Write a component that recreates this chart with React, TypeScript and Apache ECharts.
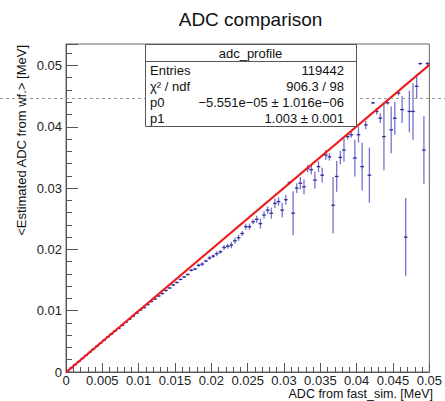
import React, { useEffect, useRef } from "react";
import * as echarts from "echarts";

// ---- data ----
const binCenters = [
  0.00025, 0.00075, 0.00125, 0.00175, 0.00225, 0.00275, 0.00325, 0.00375, 0.00425, 0.00475,
  0.00525, 0.00575, 0.00625, 0.00675, 0.00725, 0.00775, 0.00825, 0.00875, 0.00925, 0.00975,
  0.01025, 0.01075, 0.01125, 0.01175, 0.01225, 0.01275, 0.01325, 0.01375, 0.01425, 0.01475,
  0.01525, 0.01575, 0.01625, 0.01675, 0.01725, 0.01775, 0.01825, 0.01875, 0.01925, 0.01975,
  0.02025, 0.02075, 0.02125, 0.02175, 0.02225, 0.02275, 0.02325, 0.02375, 0.02425, 0.02475,
  0.02525, 0.02575, 0.02625, 0.02675, 0.02725, 0.02775, 0.02825, 0.02875, 0.02925, 0.02975,
  0.03025, 0.03075, 0.03125, 0.03175, 0.03225, 0.03275, 0.03325, 0.03375, 0.03425, 0.03475,
  0.03525, 0.03575, 0.03625, 0.03675, 0.03725, 0.03775, 0.03825, 0.03875, 0.03925, 0.03975,
  0.04025, 0.04075, 0.04125, 0.04175, 0.04225, 0.04275, 0.04325, 0.04375, 0.04425, 0.04475,
  0.04525, 0.04575, 0.04625, 0.04675, 0.04725, 0.04775, 0.04825, 0.04875, 0.04925, 0.04975,
];
const binMeans = [
  0.0002, 0.0007, 0.0012, 0.0017, 0.0022, 0.0027, 0.0032, 0.0037, 0.0042, 0.0047,
  0.0052, 0.0057, 0.0062, 0.0067, 0.0071, 0.0076, 0.0081, 0.0086, 0.0091, 0.0096,
  0.0101, 0.0105, 0.011, 0.0115, 0.0119, 0.0124, 0.0128, 0.0133, 0.0137, 0.0142,
  0.0146, 0.0151, 0.0155, 0.0159, 0.0166, 0.0168, 0.0174, 0.0176, 0.0181, 0.0186,
  0.0189, 0.0193, 0.0196, 0.0203, 0.0205, 0.0207, 0.0214, 0.0219, 0.0226, 0.0237,
  0.0237, 0.0245, 0.0249, 0.0242, 0.0256, 0.0264, 0.0259, 0.0275, 0.0278, 0.0264,
  0.0281, 0.0309, 0.0259, 0.03, 0.0308, 0.0302, 0.0332, 0.033, 0.0313, 0.0335,
  0.0321, 0.0354, 0.0351, 0.0272, 0.0319, 0.035, 0.0362, 0.0384, 0.0387, 0.0349,
  0.0387, 0.0335, 0.0403, 0.0321, 0.0439, 0.0425, 0.0414, 0.0384, 0.0439, 0.0395,
  0.0414, 0.0455, 0.0428, 0.022, 0.0425, 0.0425, 0.0466, 0.0503, 0.0362, 0.0503,
];
const binErrors = [
  0.0001, 0.0001, 0.0001, 0.0001, 0.0001, 0.0001, 0.0001, 0.0001, 0.0001, 0.0001,
  0.0001, 0.0001, 0.0001, 0.0001, 0.0001, 0.0001, 0.0001, 0.0001, 0.0001, 0.0001,
  0.00015, 0.00015, 0.00015, 0.00015, 0.00015, 0.00015, 0.00015, 0.00015, 0.00015, 0.00015,
  0.00015, 0.00015, 0.00015, 0.00015, 0.0002, 0.0002, 0.0003, 0.0003, 0.0002, 0.0003,
  0.0003, 0.0004, 0.0003, 0.0004, 0.0004, 0.0005, 0.0005, 0.0005, 0.0004, 0.0005,
  0.0005, 0.0004, 0.0006, 0.0008, 0.0006, 0.0006, 0.0009, 0.0008, 0.0007, 0.0012,
  0.0008, 0.0002, 0.0036, 0.0008, 0.001, 0.0012, 0.0006, 0.0008, 0.0014, 0.0009,
  0.0012, 0.0008, 0.0006, 0.0046, 0.0025, 0.0011, 0.0019, 0.0005, 0.0005, 0.003,
  0.0013, 0.0039, 0.0007, 0.0045, 0.0002, 0.0005, 0.0008, 0.0055, 0.0003, 0.0038,
  0.0027, 0.0004, 0.0022, 0.0064, 0.0034, 0.0046, 0.002, 0.0002, 0.0055, 0.0003,
];
const BIN_WIDTH = 0.0005;
const X_RANGE = [0, 0.05];
const Y_RANGE = [0, 0.0535];
const fitP0 = -5.551e-5;
const fitP1 = 1.003;
const statsLabels = ["Entries", "χ² / ndf", "p0", "p1"];
const statsValues = ["119442", "906.3 / 98", "−5.551e−05 ± 1.016e−06", "1.003 ± 0.001"];

const FONT = "'Liberation Sans', Arial, Helvetica, sans-serif";

export default function App() {
  const ref = useRef<HTMLDivElement>(null);
  useEffect(() => {
    if (!ref.current) return;
    const chart = echarts.init(ref.current, undefined, { renderer: "svg" });
    const profile = binCenters.map((x, i) => [x, binMeans[i], binErrors[i]]);
    const fitLine = X_RANGE.map((x) => [x, fitP0 + fitP1 * x]);

    const statsTexts: any[] = [];
    statsLabels.forEach((l, i) => {
      statsTexts.push({
        type: "text",
        x: 150,
        y: 70 + i * 16,
        style: { text: l, font: `13px ${FONT}`, fill: "#111", textAlign: "left", textVerticalAlign: "middle" },
        z: 102,
      });
      statsTexts.push({
        type: "text",
        x: 344,
        y: 70 + i * 16,
        style: { text: statsValues[i], font: `13px ${FONT}`, fill: "#111", textAlign: "right", textVerticalAlign: "middle" },
        z: 102,
      });
    });

    chart.setOption({
      animation: false,
      backgroundColor: "#fff",
      grid: { left: 66, right: 12, top: 44, bottom: 29, show: true, borderColor: "#666", borderWidth: 1, backgroundColor: "transparent" },
      xAxis: {
        type: "value",
        min: X_RANGE[0],
        max: X_RANGE[1],
        interval: 0.005,
        axisLine: { show: true, lineStyle: { color: "#555", width: 1 } },
        axisTick: { show: true, inside: true, length: 9, lineStyle: { color: "#555" } },
        minorTick: { show: true, splitNumber: 5, length: 5, lineStyle: { color: "#555" } },
        splitLine: { show: false },
        axisLabel: {
          color: "#222",
          fontSize: 13,
          lineHeight: 12,
          fontFamily: FONT,
          margin: 2,
          formatter: (v: number) => (v === 0 ? "0" : String(+v.toFixed(4))),
        },
      },
      yAxis: {
        type: "value",
        min: Y_RANGE[0],
        max: Y_RANGE[1],
        interval: 0.01,
        axisLine: { show: true, lineStyle: { color: "#555", width: 1 } },
        axisTick: { show: true, inside: true, length: 12, lineStyle: { color: "#555" } },
        minorTick: { show: true, splitNumber: 5, length: 6, lineStyle: { color: "#555" } },
        splitLine: { show: false },
        axisLabel: {
          color: "#222",
          fontSize: 13,
          fontFamily: FONT,
          margin: 4,
          formatter: (v: number) => (v === 0 ? "0" : v > 0.051 ? "" : String(+v.toFixed(4))),
        },
      },
      series: [
        {
          type: "custom",
          z: 2,
          data: profile,
          renderItem: (params: any, api: any) => {
            const x = api.value(0);
            const y = api.value(1);
            const e = api.value(2);
            const top = api.coord([x, y + e]);
            const bot = api.coord([x, y - e]);
            const l = api.coord([x - BIN_WIDTH / 2, y]);
            const r = api.coord([x + BIN_WIDTH / 2, y]);
            return {
              type: "group",
              children: [
                { type: "line", shape: { x1: top[0], y1: top[1], x2: bot[0], y2: bot[1] }, style: { stroke: "#7474cc", lineWidth: 1.3 } },
                { type: "line", shape: { x1: l[0], y1: l[1], x2: r[0], y2: r[1] }, style: { stroke: "#2a2a98", lineWidth: 1.3 } },
              ],
            };
          },
        },
        {
          type: "line",
          z: 5,
          data: fitLine,
          symbol: "none",
          lineStyle: { color: "#ee1c1c", width: 2 },
          silent: true,
        },
      ],
      graphic: [
        {
          type: "line",
          shape: { x1: 0, y1: 98.5, x2: 445, y2: 98.5 },
          style: { stroke: "#999", lineWidth: 1, lineDash: [3, 3] },
          z: 99,
        },
        {
          type: "text",
          x: 250.5,
          y: 19,
          style: { text: "ADC comparison", font: `19px ${FONT}`, fill: "#111", textAlign: "center", textVerticalAlign: "middle" },
          z: 100,
        },
        {
          type: "rect",
          shape: { x: 145.5, y: 44.5, width: 211, height: 82 },
          style: { fill: "#fff", stroke: "#555", lineWidth: 1 },
          z: 100,
        },
        {
          type: "line",
          shape: { x1: 145.5, y1: 61.5, x2: 356.5, y2: 61.5 },
          style: { stroke: "#555", lineWidth: 1 },
          z: 101,
        },
        {
          type: "text",
          x: 250.5,
          y: 53,
          style: { text: "adc_profile", font: `13px ${FONT}`, fill: "#111", textAlign: "center", textVerticalAlign: "middle" },
          z: 102,
        },
        ...statsTexts,
        {
          type: "text",
          x: 433,
          y: 393.5,
          style: {
            text: "ADC from fast_sim. [MeV]",
            font: `12.5px ${FONT}`,
            lineHeight: 13,
            fill: "#111",
            textAlign: "right",
            textVerticalAlign: "middle",
          },
          z: 100,
        },
        {
          type: "text",
          x: 21,
          y: 45,
          rotation: Math.PI / 2,
          style: { text: "<Estimated ADC from wf.> [MeV]", font: `13px ${FONT}`, fill: "#111", textAlign: "right", textVerticalAlign: "middle" },
          z: 100,
        },
      ],
    });
    return () => chart.dispose();
  }, []);
  return <div ref={ref} style={{ position: "fixed", left: 0, top: 0, width: 445, height: 401 }} />;
}
